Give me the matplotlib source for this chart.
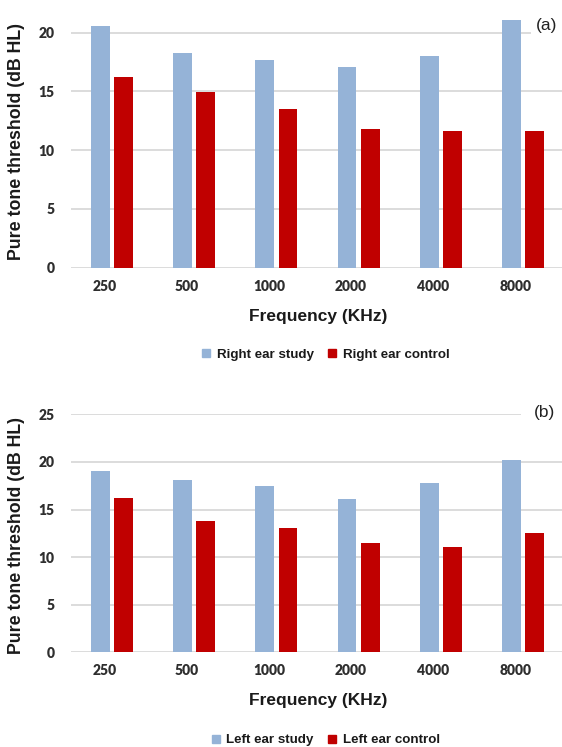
import matplotlib
matplotlib.use("Agg")
import matplotlib.pyplot as plt
import matplotlib.transforms as mtransforms
from matplotlib.lines import Line2D
import numpy as np

# ── data ────
freqs = ["250", "500", "1000", "2000", "4000", "8000"]
right_study   = [20.6, 18.3, 17.7, 17.1, 18.0, 21.05]
right_control = [16.25, 14.95, 13.5, 11.8, 11.65, 11.65]
left_study    = [19.0, 18.1, 17.45, 16.1, 17.8, 20.2]
left_control  = [16.2, 13.8, 13.05, 11.5, 11.05, 12.5]

# ── colours ────
BLUE  = "#95b3d7"
RED   = "#c00000"
GRID  = "#dcdcdc"
TICK  = "#2e2e2e"
LABEL = "#1a1a1a"

W, H = 562, 747


def fx(px):
    return px / W


def fy(py):
    return 1 - py / H


def draw_panel(ax, study, control, ymax, yticks):
    x = np.arange(len(freqs))
    ax.bar(x - 0.141, study, width=0.231, color=BLUE, zorder=3)
    ax.bar(x + 0.141, control, width=0.231, color=RED, zorder=3)
    ax.set_xlim(-0.5, len(freqs) - 0.5)
    ax.set_ylim(0, ymax)
    ax.set_yticks(yticks)
    ax.set_xticks(x)
    ax.set_xticklabels(freqs)
    ax.grid(axis="y", color=GRID, linewidth=1.4)
    ax.set_axisbelow(True)
    for s in ax.spines.values():
        s.set_visible(False)
    ax.tick_params(axis="both", length=0, colors=TICK, labelsize=10)
    ax.tick_params(axis="x", pad=8.5)
    ax.tick_params(axis="y", pad=12)
    for lab in ax.get_xticklabels() + ax.get_yticklabels():
        lab.set_fontfamily("Lato")
        lab.set_fontweight("heavy")
    # tick labels sit a little left of the bar groups in the original
    off = mtransforms.ScaledTranslation(-7.5 / 100, 0, ax.figure.dpi_scale_trans)
    for lab in ax.get_xticklabels():
        lab.set_transform(lab.get_transform() + off)


fig = plt.figure(figsize=(W / 100, H / 100), dpi=100)

# top panel: 0 at y=267.7 px, 11.75 px per dB, runs up to image top
ax1 = fig.add_axes([fx(71), fy(267.7), fx(493), 267.7 / H])
draw_panel(ax1, right_study, right_control, 267.7 / 11.75, [0, 5, 10, 15, 20])

# bottom panel: 0 at y=652.3 px, 25 at y=414.3 px
ax2 = fig.add_axes([fx(71), fy(652.3), fx(493), (652.3 - 414.3) / H])
draw_panel(ax2, left_study, left_control, 25, [0, 5, 10, 15, 20, 25])

lab_kw = dict(fontfamily="Liberation Sans", fontweight="bold", color=LABEL)

fig.text(fx(17), fy(141), "Pure tone threshold (dB HL)", rotation=90,
         ha="center", va="center", fontsize=12.8, **lab_kw)
fig.text(fx(17), fy(535), "Pure tone threshold (dB HL)", rotation=90,
         ha="center", va="center", fontsize=12.8, **lab_kw)

fig.text(fx(318.5), fy(316.5), "Frequency (KHz)", ha="center", va="center",
         fontsize=12.5, **lab_kw)
fig.text(fx(318.5), fy(700), "Frequency (KHz)", ha="center", va="center",
         fontsize=12.5, **lab_kw)

fig.text(fx(547), fy(25.5), "(a)", ha="center", va="center", fontsize=12.5,
         fontfamily="Liberation Sans", color="#222222",
         bbox=dict(facecolor="white", edgecolor="none", pad=4))
fig.text(fx(544.5), fy(412), "(b)", ha="center", va="center", fontsize=12.5,
         fontfamily="Liberation Sans", color="#222222",
         bbox=dict(facecolor="white", edgecolor="none", pad=9))


def legend(labels, y):
    handles = [Line2D([], [], linestyle="none", marker="s", markersize=6,
                      color=BLUE),
               Line2D([], [], linestyle="none", marker="s", markersize=6,
                      color=RED)]
    fig.legend(handles, labels, loc="center", bbox_to_anchor=(fx(326), fy(y)),
               ncol=2, frameon=False, handlelength=0.6, handletextpad=0.5,
               columnspacing=1.1, borderaxespad=0,
               prop=dict(family="Liberation Sans", weight="bold", size=9.6),
               labelcolor=LABEL)


legend(["Right ear study", "Right ear control"], 354.7)
legend(["Left ear study", "Left ear control"], 740)

fig.savefig("out.png", dpi=100)
